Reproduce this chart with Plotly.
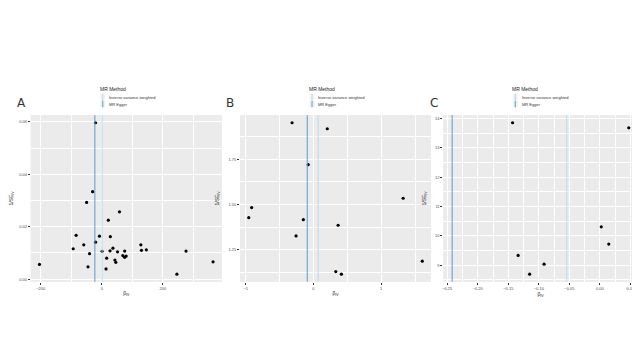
import plotly.graph_objects as go

# ---------------- data ----------------
panel_labels = ["A", "B", "C"]
legend_title = "MR Method"
method_names = ["Inverse variance weighted", "MR Egger"]
x_title = "β<sub>IV</sub>"
y_title = "1/SE<sub>IV</sub>"

beta_A = [-20.4, -30, -49.5, 58, 21.5, -84, -7.5, 28, -59, -20.4, 128, -93.5, 36.6,
          27, 1, 51.6, 75, 130, 146, 276, -40, 69, 80, 75, 16, 43, 46, 364.5, -204,
          -45, 14, 246]
inv_se_A = [0.0597, 0.0334, 0.0293, 0.0257, 0.0225, 0.0167, 0.0164, 0.0162, 0.0131,
            0.0141, 0.0131, 0.0116, 0.0118, 0.0108, 0.0106, 0.0104, 0.0107, 0.0110,
            0.0112, 0.0107, 0.0097, 0.0090, 0.0088, 0.0083, 0.0080, 0.0073, 0.0064,
            0.0066, 0.0056, 0.0047, 0.0039, 0.0019]
lines_A = [1.0, -22.6]          # [IVW, MR Egger]

beta_B = [-0.316, 0.204, -0.078, 1.325, -0.913, -0.956, -0.150, 0.364, -0.257,
          1.607, 0.330, 0.413]
inv_se_B = [1.952, 1.919, 1.7206, 1.535, 1.4835, 1.428, 1.417, 1.386, 1.327,
            1.1875, 1.130, 1.116]
lines_B = [0.068, -0.092]

beta_C = [-0.1430, 0.0473, 0.0022, 0.0145, -0.1339, -0.0914, -0.1151]
inv_se_C = [13.852, 13.68, 10.307, 9.716, 9.33, 9.034, 8.693]
lines_C = [-0.0543, -0.2419]

x_dticks = [200, 1, 0.05]
y_dticks = [0.02, 0.25, 1]
x_formats = ["d", "d", ".2f"]
y_formats = [".2f", ".2f", "d"]

# ---------------- style / layout ----------------
# The page body has an 8px margin, so the figure starts at (8, 8) in the window.
OFF = 8
W, H = 640 - OFF, 360 - OFF


def px(X):
    return (X - OFF) / W


def py(Y):
    return 1 - (Y - OFF) / H


line_colors = ["#b9d9ec", "#5a9bd0"]   # IVW (light), Egger (dark)
panel_bg = "#EBEBEB"
tick_col = "#4D4D4D"
x_px = [[22.0, 215.7], [234.3, 427.9], [440.5, 637.6]]
y_px = [281.7, 115.2]

panels = [(beta_A, inv_se_A, lines_A), (beta_B, inv_se_B, lines_B), (beta_C, inv_se_C, lines_C)]

fig = go.Figure()


def expand(vals):
    lo, hi = min(vals), max(vals)
    pad = (hi - lo) * 0.05
    return [lo - pad, hi + pad]


for i, (bx, by, vl) in enumerate(panels):
    n = "" if i == 0 else str(i + 1)
    xa, ya = "x" + n, "y" + n
    fig.add_trace(go.Scatter(x=bx, y=by, mode="markers", xaxis=xa, yaxis=ya,
                             marker=dict(color="black", size=3.2), showlegend=False,
                             hoverinfo="x+y"))
    xr = expand(bx + vl)
    yr = expand(by)
    axis_common = dict(showline=False, zeroline=False, gridcolor="white", gridwidth=0.7,
                       ticks="outside", ticklen=2, tickwidth=0.6, tickcolor="#333333",
                       tickfont=dict(family="Liberation Sans, Arial", size=4, color=tick_col),
                       title_font=dict(family="Liberation Sans, Arial", size=5, color="#222"))
    fig.update_layout(**{
        "xaxis" + n: dict(domain=[px(x_px[i][0]), px(x_px[i][1])], anchor=ya, range=xr,
                          tick0=0, dtick=x_dticks[i], tickformat=x_formats[i],
                          minor=dict(dtick=x_dticks[i] / 2, tick0=0, showgrid=True,
                                     gridcolor="white", gridwidth=0.35),
                          title=dict(text=x_title, standoff=1), **axis_common),
        "yaxis" + n: dict(domain=[py(y_px[0]), py(y_px[1])], anchor=xa, range=yr,
                          tick0=0, dtick=y_dticks[i], tickformat=y_formats[i],
                          minor=dict(dtick=y_dticks[i] / 2, tick0=0, showgrid=True,
                                     gridcolor="white", gridwidth=0.35),
                          title=dict(text=y_title, standoff=8), **axis_common),
    })
    # panel background
    fig.add_shape(type="rect", xref=xa + " domain", yref=ya + " domain", x0=0, x1=1,
                  y0=0, y1=1, fillcolor=panel_bg, line_width=0, layer="below")
    # vertical method lines
    for j, v in enumerate(vl):
        fig.add_shape(type="line", xref=xa, yref=ya + " domain", x0=v, x1=v, y0=0, y1=1,
                      line=dict(color=line_colors[j], width=1))
    # panel letter
    fig.add_annotation(text=panel_labels[i], xref="paper", yref="paper",
                       x=px(x_px[i][0] - 16), y=py(103),
                       xanchor="left", yanchor="middle", showarrow=False,
                       font=dict(family="DejaVu Sans, Liberation Sans", size=12, color="#333"))
    # legend (manual, ggplot style)
    lx = x_px[i][0] + 70
    fig.add_annotation(text=legend_title, xref="paper", yref="paper",
                       x=px(lx - 2), y=py(89), xanchor="left", yanchor="middle",
                       showarrow=False,
                       font=dict(family="Liberation Sans, Arial", size=5, color="#222"))
    for j, name in enumerate(method_names):
        ky = 97 + 7 * j
        fig.add_shape(type="rect", xref="paper", yref="paper",
                      x0=px(lx + 0.5), x1=px(lx + 5.5),
                      y0=py(ky + 3.3), y1=py(ky - 3.3),
                      fillcolor="#F2F2F2", line_width=0)
        fig.add_shape(type="line", xref="paper", yref="paper",
                      x0=px(lx + 3), x1=px(lx + 3),
                      y0=py(ky + 3.3), y1=py(ky - 3.3),
                      line=dict(color=line_colors[j], width=1))
        fig.add_annotation(text=name, xref="paper", yref="paper",
                           x=px(lx + 7.5), y=py(ky), xanchor="left",
                           yanchor="middle", showarrow=False,
                           font=dict(family="Liberation Sans, Arial", size=4, color="#333"))

fig.update_layout(width=W, height=H, margin=dict(l=0, r=0, t=0, b=0),
                  paper_bgcolor="white", plot_bgcolor=panel_bg, showlegend=False)

fig.write_html("out.html")
